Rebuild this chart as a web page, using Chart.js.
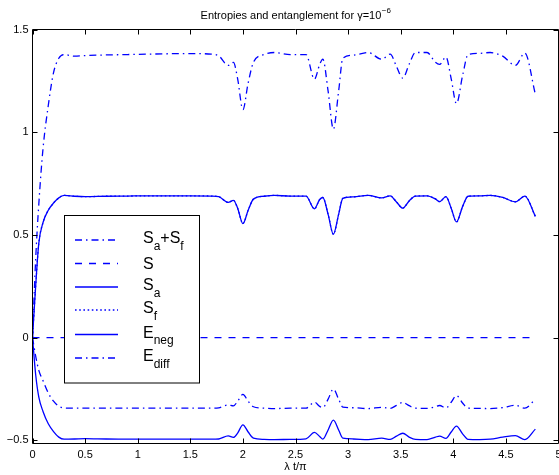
<!DOCTYPE html>
<html>
<head>
<meta charset="utf-8">
<script src="https://cdn.jsdelivr.net/npm/chart.js@4/dist/chart.umd.min.js"></script>
<style>
html,body{margin:0;padding:0;background:#fff;}
#wrap{width:559px;height:475px;position:relative;}
</style>
</head>
<body>
<div id="wrap"><canvas id="c" width="559" height="475"></canvas></div>
<script>
// ---- data ----
const t      = [0,0.03,0.06,0.1,0.15,0.2,0.25,0.3,0.4,0.5,0.7,0.9,1.1,1.3,1.5,1.7,1.77,1.86,1.91,1.95,2.0,2.05,2.1,2.2,2.3,2.45,2.6,2.68,2.73,2.76,2.81,2.86,2.91,2.95,3.05,3.19,3.32,3.4,3.46,3.52,3.58,3.64,3.75,3.83,3.87,3.93,3.98,4.03,4.09,4.14,4.25,4.35,4.47,4.59,4.68,4.78];
const SaSf   = [0,0.38,0.65,0.92,1.13,1.29,1.36,1.378,1.37,1.373,1.376,1.378,1.38,1.382,1.383,1.38,1.372,1.325,1.34,1.26,1.11,1.24,1.34,1.378,1.388,1.378,1.378,1.258,1.33,1.356,1.2,1.015,1.2,1.36,1.375,1.388,1.355,1.38,1.32,1.263,1.33,1.388,1.388,1.34,1.33,1.366,1.26,1.139,1.28,1.378,1.384,1.388,1.37,1.325,1.385,1.185];
const S      = [0,0,0,0,0,0,0,0,0,0,0,0,0,0,0,0,0,0,0,0,0,0,0,0,0,0,0,0,0,0,0,0,0,0,0,0,0,0,0,0,0,0,0,0,0,0,0,0,0,0,0,0,0,0,0,0];
const Sa     = [0,0.25,0.46,0.56,0.62,0.655,0.68,0.692,0.688,0.686,0.688,0.689,0.69,0.69,0.69,0.689,0.686,0.658,0.668,0.63,0.555,0.62,0.674,0.688,0.692,0.689,0.689,0.627,0.672,0.682,0.6,0.503,0.6,0.678,0.685,0.692,0.68,0.69,0.66,0.63,0.665,0.689,0.69,0.675,0.662,0.686,0.63,0.563,0.64,0.688,0.69,0.692,0.682,0.661,0.689,0.59];
const Sf     = [0,0.25,0.46,0.56,0.62,0.655,0.68,0.692,0.688,0.686,0.688,0.689,0.69,0.69,0.69,0.689,0.686,0.658,0.668,0.63,0.555,0.62,0.674,0.688,0.692,0.689,0.689,0.627,0.672,0.682,0.6,0.503,0.6,0.678,0.685,0.692,0.68,0.69,0.66,0.63,0.665,0.689,0.69,0.675,0.662,0.686,0.63,0.563,0.64,0.688,0.69,0.692,0.682,0.661,0.689,0.59];
const Eneg   = [0,-0.18,-0.29,-0.36,-0.42,-0.458,-0.485,-0.495,-0.494,-0.492,-0.494,-0.495,-0.495,-0.495,-0.495,-0.495,-0.494,-0.479,-0.486,-0.465,-0.425,-0.46,-0.49,-0.496,-0.497,-0.496,-0.493,-0.462,-0.482,-0.495,-0.45,-0.402,-0.45,-0.49,-0.494,-0.497,-0.49,-0.496,-0.48,-0.466,-0.485,-0.496,-0.497,-0.485,-0.48,-0.491,-0.46,-0.431,-0.47,-0.496,-0.497,-0.495,-0.485,-0.478,-0.497,-0.446];
const Ediff  = [0,-0.09,-0.16,-0.21,-0.27,-0.31,-0.335,-0.343,-0.344,-0.344,-0.344,-0.344,-0.344,-0.344,-0.344,-0.344,-0.342,-0.328,-0.333,-0.31,-0.277,-0.31,-0.337,-0.344,-0.346,-0.344,-0.344,-0.315,-0.335,-0.341,-0.3,-0.251,-0.3,-0.339,-0.342,-0.346,-0.34,-0.345,-0.33,-0.316,-0.332,-0.344,-0.345,-0.337,-0.331,-0.343,-0.315,-0.282,-0.32,-0.344,-0.345,-0.346,-0.341,-0.33,-0.344,-0.3];
const xTicks = [0,0.5,1,1.5,2,2.5,3,3.5,4,4.5,5];
const yTicks = [-0.5,0,0.5,1,1.5];
const seriesNames = [["S","a","+","S","f"],["S"],["S","a"],["S","f"],["E","neg"],["E","diff"]];
const titleMain = "Entropies and entanglement for γ=10";
const titleSup = "−6";
const xLabel = "λ t/π";

const FONT = '"Liberation Sans", Arial, Helvetica, sans-serif';
const BLUE = '#0000ff';
const DASHDOT = [7,4,1.5,4];
const DASHED = [7,7];
const DOTTED = [1.6,2.6];
const LW = 1.3;

function pts(arr){ return t.map((x,i)=>({x:x,y:arr[i]})); }
function ds(label, arr, dash){
  return {label:label, data:pts(arr), borderColor:BLUE, borderWidth:LW, borderDash:dash,
          pointRadius:0, fill:false, cubicInterpolationMode:'monotone'};
}
const datasets = [
  ds('Sa+Sf', SaSf, DASHDOT),
  ds('S', S, DASHED),
  ds('Sa', Sa, []),
  ds('Sf', Sf, DOTTED),
  ds('Eneg', Eneg, []),
  ds('Ediff', Ediff, DASHDOT)
];

const fmt = v => (v<0 ? '−'+String(Math.abs(v)) : String(v));

const framePlugin = {
  id:'frame',
  afterDatasetsDraw(chart){
    const ctx = chart.ctx, a = chart.chartArea;
    const xs = chart.scales.x, ys = chart.scales.y;
    ctx.save();
    ctx.strokeStyle = '#000'; ctx.lineWidth = 1; ctx.setLineDash([]);
    ctx.beginPath();
    ctx.rect(a.left, a.top, a.right-a.left, a.bottom-a.top);
    ctx.stroke();
    const L = 5;
    ctx.beginPath();
    xTicks.forEach(v=>{
      const px = Math.round(xs.getPixelForValue(v))+0.5;
      ctx.moveTo(px, a.bottom); ctx.lineTo(px, a.bottom-L);
      ctx.moveTo(px, a.top); ctx.lineTo(px, a.top+L);
    });
    yTicks.forEach(v=>{
      const py = Math.round(ys.getPixelForValue(v))+0.5;
      ctx.moveTo(a.left, py); ctx.lineTo(a.left+L, py);
      ctx.moveTo(a.right, py); ctx.lineTo(a.right-L, py);
    });
    ctx.stroke();

    // legend
    const bx=64.5, by=215.5, bw=135, bh=167.5;
    ctx.fillStyle='#fff';
    ctx.fillRect(bx,by,bw,bh);
    ctx.strokeStyle='#000';
    ctx.strokeRect(bx,by,bw,bh);
    const rowY=[240,263.5,287,310,334.5,358];
    chart.data.datasets.forEach((d,i)=>{
      const y=rowY[i];
      ctx.strokeStyle=BLUE; ctx.lineWidth=LW; ctx.setLineDash(d.borderDash);
      ctx.beginPath(); ctx.moveTo(75,y); ctx.lineTo(118,y); ctx.stroke();
      ctx.setLineDash([]);
      const parts = seriesNames[i];
      const hasSub = parts.length>1;
      const base = y + (hasSub?3:5.5);
      let x=143;
      ctx.fillStyle='#000'; ctx.textBaseline='alphabetic'; ctx.textAlign='left';
      parts.forEach((p,k)=>{
        const isSub = (k===1 || k===4);
        ctx.font = (isSub? '12px ':'16px ') + FONT;
        ctx.fillText(p, x, isSub? base+6.5 : base);
        x += ctx.measureText(p).width;
      });
    });

    // title
    ctx.fillStyle='#000';
    ctx.font='11px '+FONT;
    const w1=ctx.measureText(titleMain).width;
    ctx.font='8px '+FONT;
    const w2=ctx.measureText(titleSup).width;
    const cx=(a.left+a.right)/2;
    const x0=cx-(w1+w2)/2;
    ctx.textAlign='left'; ctx.textBaseline='alphabetic';
    ctx.font='11px '+FONT;
    ctx.fillText(titleMain, x0, 18.5);
    ctx.font='8px '+FONT;
    ctx.fillText(titleSup, x0+w1+0.5, 13);
    ctx.restore();
  }
};

new Chart(document.getElementById('c'), {
  type:'line',
  data:{datasets:datasets},
  plugins:[framePlugin],
  options:{
    responsive:false, animation:false, devicePixelRatio:1,
    layout:{padding:{top:29.5,right:0.5,left:0,bottom:0}},
    plugins:{legend:{display:false}, title:{display:false}, tooltip:{enabled:false}},
    elements:{line:{borderCapStyle:'butt'}},
    scales:{
      x:{type:'linear', min:0, max:5,
         grid:{display:false, drawTicks:false}, border:{display:false},
         afterBuildTicks:s=>{ s.ticks = xTicks.map(v=>({value:v})); },
         afterFit:s=>{ s.height=31.5; s.paddingLeft=0; s.paddingRight=0; },
         ticks:{color:'#000', font:{family:FONT,size:11}, padding:5, maxRotation:0, autoSkip:false, callback:v=>fmt(v)},
         title:{display:true, text:xLabel, color:'#000', font:{family:FONT,size:11}, padding:{top:0,bottom:1}}
      },
      y:{type:'linear', min:-0.516, max:1.5,
         grid:{display:false, drawTicks:false}, border:{display:false},
         afterBuildTicks:s=>{ s.ticks = yTicks.map(v=>({value:v})); },
         afterFit:s=>{ s.width=32.5; s.paddingTop=0; s.paddingBottom=0; },
         ticks:{color:'#000', font:{family:FONT,size:11}, padding:4, autoSkip:false, callback:v=>fmt(v)}
      }
    }
  }
});
</script>
</body>
</html>
